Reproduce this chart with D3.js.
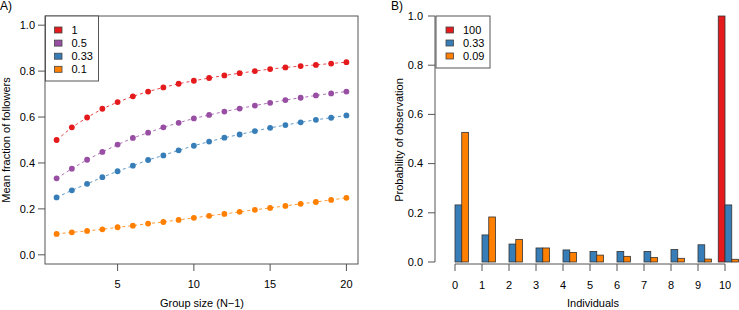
<!DOCTYPE html>
<html>
<head>
<meta charset="utf-8">
<script src="https://cdn.jsdelivr.net/npm/d3@7"></script>
<style>
  body { margin: 0; background: #fff; }
  text { font-family: "Liberation Sans", Arial, Helvetica, sans-serif; fill: #000; }
</style>
</head>
<body>
<div id="container"></div>
<script>
// ---- data: panel A (mean fraction of followers vs group size) ----
const groupSizes = d3.range(1, 21);
const seriesA = ["1", "0.5", "0.33", "0.1"];
const followers1 = [0.50, 0.555, 0.598, 0.636, 0.665, 0.69, 0.711, 0.729, 0.745, 0.758,
  0.77, 0.781, 0.791, 0.80, 0.809, 0.816, 0.822, 0.827, 0.833, 0.839];
const followers05 = [0.333, 0.375, 0.414, 0.448, 0.48, 0.509, 0.532, 0.555, 0.575, 0.594,
  0.609, 0.624, 0.637, 0.65, 0.662, 0.674, 0.684, 0.694, 0.703, 0.711];
const followers033 = [0.25, 0.281, 0.309, 0.338, 0.364, 0.388, 0.413, 0.433, 0.455, 0.475,
  0.493, 0.51, 0.524, 0.539, 0.553, 0.565, 0.577, 0.588, 0.597, 0.607];
const followers01 = [0.091, 0.098, 0.104, 0.111, 0.12, 0.127, 0.136, 0.143, 0.152, 0.161,
  0.17, 0.178, 0.187, 0.196, 0.204, 0.213, 0.222, 0.23, 0.239, 0.248];

// ---- data: panel B (probability of observation per individual count) ----
const individuals = d3.range(0, 11);
const seriesB = ["100", "0.33", "0.09"];
const prob100 = [0, 0, 0, 0, 0, 0, 0, 0, 0, 0, 1.0];
const prob033 = [0.232, 0.11, 0.073, 0.057, 0.049, 0.043, 0.043, 0.043, 0.051, 0.07, 0.232];
const prob009 = [0.527, 0.183, 0.092, 0.057, 0.039, 0.028, 0.023, 0.018, 0.015, 0.012, 0.011];

const colsA = ["#E41A1C", "#984EA3", "#377EB8", "#FF7F00"];
const colsB = ["#E41A1C", "#377EB8", "#FF7F00"];
const yTicks = [0, 0.2, 0.4, 0.6, 0.8, 1.0];

const width = 739, height = 310;
const axisCol = "#555";
const svg = d3.select("#container").append("svg")
  .attr("width", width).attr("height", height);

// ================= Panel A =================
const xA = d3.scaleLinear().domain([0.24, 20.76]).range([45, 358]);
const yA = d3.scaleLinear().domain([-0.04, 1.04]).range([264, 16]);
const gA = svg.append("g");

gA.append("rect")
  .attr("x", xA.range()[0]).attr("y", yA.range()[1])
  .attr("width", xA.range()[1] - xA.range()[0])
  .attr("height", yA.range()[0] - yA.range()[1])
  .attr("fill", "none").attr("stroke", axisCol).attr("stroke-width", 1);

// y axis
yTicks.forEach((t) => {
  gA.append("line").attr("x1", 38).attr("x2", 45)
    .attr("y1", yA(t)).attr("y2", yA(t)).attr("stroke", axisCol);
  gA.append("text").attr("x", 35).attr("y", yA(t)).attr("dy", "0.35em")
    .attr("text-anchor", "end").attr("font-size", 11).text(t.toFixed(1));
});
// x axis
[5, 10, 15, 20].forEach((t) => {
  gA.append("line").attr("x1", xA(t)).attr("x2", xA(t))
    .attr("y1", 264).attr("y2", 271).attr("stroke", axisCol);
  gA.append("text").attr("x", xA(t)).attr("y", 288)
    .attr("text-anchor", "middle").attr("font-size", 11).text(t);
});

const dataA = [followers1, followers05, followers033, followers01];
const line = d3.line().x((d, i) => xA(groupSizes[i])).y((d) => yA(d));
dataA.forEach((vals, k) => {
  gA.append("path").attr("d", line(vals))
    .attr("fill", "none").attr("stroke", colsA[k])
    .attr("stroke-width", 1).attr("stroke-dasharray", "3,3").attr("opacity", 0.8);
  gA.selectAll(null).data(vals).enter().append("circle")
    .attr("cx", (d, i) => xA(groupSizes[i])).attr("cy", (d) => yA(d))
    .attr("r", 2.9).attr("fill", colsA[k]);
});

// legend A
const legA = gA.append("g");
legA.append("rect").attr("x", 45.5).attr("y", 16).attr("width", 53).attr("height", 65)
  .attr("fill", "#fff").attr("stroke", axisCol);
seriesA.forEach((s, k) => {
  const cy = 30 + k * 13.1;
  legA.append("rect").attr("x", 54.5).attr("y", cy - 3).attr("width", 7.5).attr("height", 6)
    .attr("fill", colsA[k]).attr("stroke", "#444").attr("stroke-width", 0.8);
  legA.append("text").attr("x", 71.5).attr("y", cy).attr("dy", "0.35em")
    .attr("font-size", 11).text(s);
});

gA.append("text").attr("x", 202).attr("y", 307).attr("text-anchor", "middle")
  .attr("font-size", 11).text("Group size (N\u22121)");
gA.append("text").attr("transform", "translate(10,140) rotate(-90)")
  .attr("text-anchor", "middle").attr("font-size", 11).text("Mean fraction of followers");
gA.append("text").attr("x", 0).attr("y", 10).attr("font-size", 12).text("A)");

// ================= Panel B =================
const xB = d3.scaleLinear().domain([0, 10]).range([455, 725]);
const yB = d3.scaleLinear().domain([0, 1]).range([262, 16]);
const bw = 6.75;
const gB = svg.append("g");

// y axis line + ticks
gB.append("line").attr("x1", 435).attr("x2", 435)
  .attr("y1", yB(0)).attr("y2", yB(1)).attr("stroke", axisCol);
yTicks.forEach((t) => {
  gB.append("line").attr("x1", 428).attr("x2", 435)
    .attr("y1", yB(t)).attr("y2", yB(t)).attr("stroke", axisCol);
  gB.append("text").attr("x", 423).attr("y", yB(t)).attr("dy", "0.35em")
    .attr("text-anchor", "end").attr("font-size", 11).text(t.toFixed(1));
});

// x axis line + ticks
gB.append("line").attr("x1", xB(0)).attr("x2", xB(10))
  .attr("y1", 264).attr("y2", 264).attr("stroke", axisCol);
individuals.forEach((t) => {
  gB.append("line").attr("x1", xB(t)).attr("x2", xB(t))
    .attr("y1", 264).attr("y2", 271).attr("stroke", axisCol);
  gB.append("text").attr("x", xB(t)).attr("y", 289)
    .attr("text-anchor", "middle").attr("font-size", 11).text(t);
});

// grouped bars: red, blue, orange per group
const dataB = [prob100, prob033, prob009];
dataB.forEach((vals, k) => {
  gB.selectAll(null).data(vals).enter().append("rect")
    .attr("x", (d, i) => xB(individuals[i]) + (k - 1) * bw)
    .attr("y", (d) => yB(d))
    .attr("width", bw)
    .attr("height", (d) => yB(0) - yB(d))
    .attr("fill", colsB[k])
    .attr("stroke", "#333").attr("stroke-width", 0.8);
});

// legend B
const legB = gB.append("g");
legB.append("rect").attr("x", 436).attr("y", 16).attr("width", 54).attr("height", 52)
  .attr("fill", "#fff").attr("stroke", axisCol);
seriesB.forEach((s, k) => {
  const cy = 30 + k * 13;
  legB.append("rect").attr("x", 446).attr("y", cy - 3).attr("width", 7.5).attr("height", 6)
    .attr("fill", colsB[k]).attr("stroke", "#444").attr("stroke-width", 0.8);
  legB.append("text").attr("x", 463).attr("y", cy).attr("dy", "0.35em")
    .attr("font-size", 11).text(s);
});

gB.append("text").attr("x", 593).attr("y", 307).attr("text-anchor", "middle")
  .attr("font-size", 11).text("Individuals");
gB.append("text").attr("transform", "translate(403,140) rotate(-90)")
  .attr("text-anchor", "middle").attr("font-size", 11).text("Probability of observation");
gB.append("text").attr("x", 391).attr("y", 10).attr("font-size", 12).text("B)");
</script>
</body>
</html>
